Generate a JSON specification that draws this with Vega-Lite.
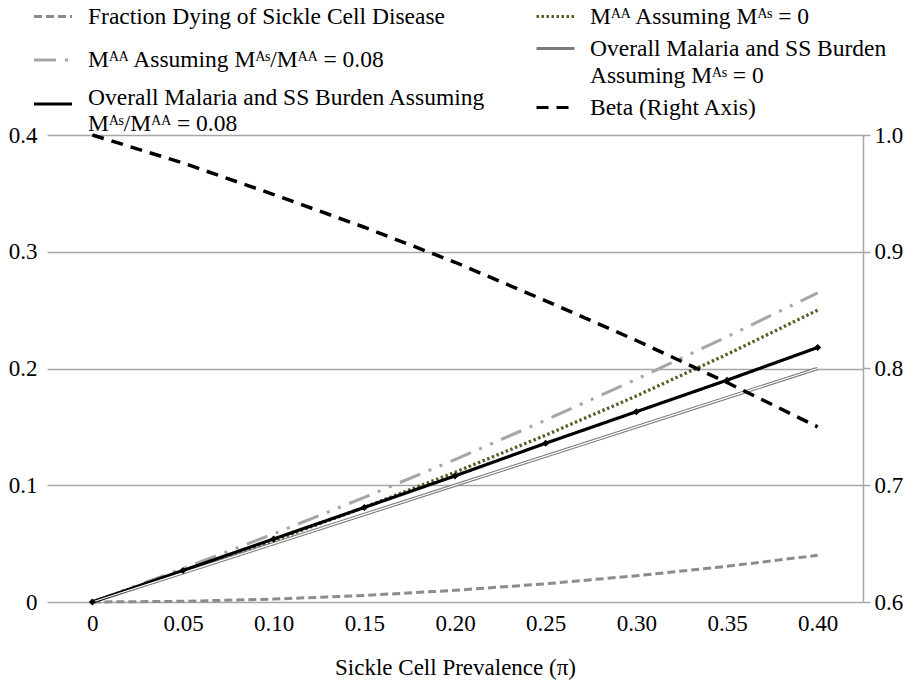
{
  "$schema": "https://vega.github.io/schema/vega-lite/v6.json",
  "width": 816,
  "height": 467,
  "autosize": {"type": "none"},
  "padding": {"left": 47, "top": 135, "right": 49, "bottom": 78},
  "background": "white",
  "config": {
    "view": {"stroke": null},
    "font": "Liberation Serif",
    "axis": {"labelFont": "Liberation Serif", "labelFontSize": 23, "labelColor": "black", "titleFont": "Liberation Serif", "titleFontSize": 23, "titleFontWeight": "normal", "titleColor": "black"},
    "legend": {"labelFont": "Liberation Serif, DejaVu Serif", "labelFontSize": 23.5, "labelColor": "black", "padding": 0}
  },
  "data": {"values": [
    {"p": "0", "s": "Fraction Dying of Sickle Cell Disease", "v": 0},
    {"p": "0.05", "s": "Fraction Dying of Sickle Cell Disease", "v": 0.0006},
    {"p": "0.10", "s": "Fraction Dying of Sickle Cell Disease", "v": 0.0025},
    {"p": "0.15", "s": "Fraction Dying of Sickle Cell Disease", "v": 0.0056},
    {"p": "0.20", "s": "Fraction Dying of Sickle Cell Disease", "v": 0.01},
    {"p": "0.25", "s": "Fraction Dying of Sickle Cell Disease", "v": 0.0156},
    {"p": "0.30", "s": "Fraction Dying of Sickle Cell Disease", "v": 0.0225},
    {"p": "0.35", "s": "Fraction Dying of Sickle Cell Disease", "v": 0.0306},
    {"p": "0.40", "s": "Fraction Dying of Sickle Cell Disease", "v": 0.04},
    {"p": "0", "s": "Mᴬᴬ Assuming Mᴬˢ = 0", "v": 0},
    {"p": "0.05", "s": "Mᴬᴬ Assuming Mᴬˢ = 0", "v": 0.0256},
    {"p": "0.10", "s": "Mᴬᴬ Assuming Mᴬˢ = 0", "v": 0.0526},
    {"p": "0.15", "s": "Mᴬᴬ Assuming Mᴬˢ = 0", "v": 0.0811},
    {"p": "0.20", "s": "Mᴬᴬ Assuming Mᴬˢ = 0", "v": 0.1111},
    {"p": "0.25", "s": "Mᴬᴬ Assuming Mᴬˢ = 0", "v": 0.1429},
    {"p": "0.30", "s": "Mᴬᴬ Assuming Mᴬˢ = 0", "v": 0.1765},
    {"p": "0.35", "s": "Mᴬᴬ Assuming Mᴬˢ = 0", "v": 0.2121},
    {"p": "0.40", "s": "Mᴬᴬ Assuming Mᴬˢ = 0", "v": 0.25},
    {"p": "0", "s": "Mᴬᴬ Assuming Mᴬˢ/Mᴬᴬ = 0.08", "v": 0},
    {"p": "0.05", "s": "Mᴬᴬ Assuming Mᴬˢ/Mᴬᴬ = 0.08", "v": 0.0286},
    {"p": "0.10", "s": "Mᴬᴬ Assuming Mᴬˢ/Mᴬᴬ = 0.08", "v": 0.0584},
    {"p": "0.15", "s": "Mᴬᴬ Assuming Mᴬˢ/Mᴬᴬ = 0.08", "v": 0.0896},
    {"p": "0.20", "s": "Mᴬᴬ Assuming Mᴬˢ/Mᴬᴬ = 0.08", "v": 0.122},
    {"p": "0.25", "s": "Mᴬᴬ Assuming Mᴬˢ/Mᴬᴬ = 0.08", "v": 0.1558},
    {"p": "0.30", "s": "Mᴬᴬ Assuming Mᴬˢ/Mᴬᴬ = 0.08", "v": 0.1908},
    {"p": "0.35", "s": "Mᴬᴬ Assuming Mᴬˢ/Mᴬᴬ = 0.08", "v": 0.2272},
    {"p": "0.40", "s": "Mᴬᴬ Assuming Mᴬˢ/Mᴬᴬ = 0.08", "v": 0.2648},
    {"p": "0", "s": "Overall Malaria and SS Burden|Assuming Mᴬˢ = 0", "v": 0},
    {"p": "0.05", "s": "Overall Malaria and SS Burden|Assuming Mᴬˢ = 0", "v": 0.025},
    {"p": "0.10", "s": "Overall Malaria and SS Burden|Assuming Mᴬˢ = 0", "v": 0.05},
    {"p": "0.15", "s": "Overall Malaria and SS Burden|Assuming Mᴬˢ = 0", "v": 0.075},
    {"p": "0.20", "s": "Overall Malaria and SS Burden|Assuming Mᴬˢ = 0", "v": 0.1},
    {"p": "0.25", "s": "Overall Malaria and SS Burden|Assuming Mᴬˢ = 0", "v": 0.125},
    {"p": "0.30", "s": "Overall Malaria and SS Burden|Assuming Mᴬˢ = 0", "v": 0.15},
    {"p": "0.35", "s": "Overall Malaria and SS Burden|Assuming Mᴬˢ = 0", "v": 0.175},
    {"p": "0.40", "s": "Overall Malaria and SS Burden|Assuming Mᴬˢ = 0", "v": 0.2},
    {"p": "0", "s": "Overall Malaria and SS Burden Assuming|Mᴬˢ/Mᴬᴬ = 0.08", "v": 0},
    {"p": "0.05", "s": "Overall Malaria and SS Burden Assuming|Mᴬˢ/Mᴬᴬ = 0.08", "v": 0.027},
    {"p": "0.10", "s": "Overall Malaria and SS Burden Assuming|Mᴬˢ/Mᴬᴬ = 0.08", "v": 0.054},
    {"p": "0.15", "s": "Overall Malaria and SS Burden Assuming|Mᴬˢ/Mᴬᴬ = 0.08", "v": 0.081},
    {"p": "0.20", "s": "Overall Malaria and SS Burden Assuming|Mᴬˢ/Mᴬᴬ = 0.08", "v": 0.108},
    {"p": "0.25", "s": "Overall Malaria and SS Burden Assuming|Mᴬˢ/Mᴬᴬ = 0.08", "v": 0.136},
    {"p": "0.30", "s": "Overall Malaria and SS Burden Assuming|Mᴬˢ/Mᴬᴬ = 0.08", "v": 0.163},
    {"p": "0.35", "s": "Overall Malaria and SS Burden Assuming|Mᴬˢ/Mᴬᴬ = 0.08", "v": 0.19},
    {"p": "0.40", "s": "Overall Malaria and SS Burden Assuming|Mᴬˢ/Mᴬᴬ = 0.08", "v": 0.218},
    {"p": "0", "s": "Beta (Right Axis)", "v": 1.0},
    {"p": "0.05", "s": "Beta (Right Axis)", "v": 0.976},
    {"p": "0.10", "s": "Beta (Right Axis)", "v": 0.949},
    {"p": "0.15", "s": "Beta (Right Axis)", "v": 0.921},
    {"p": "0.20", "s": "Beta (Right Axis)", "v": 0.891},
    {"p": "0.25", "s": "Beta (Right Axis)", "v": 0.858},
    {"p": "0.30", "s": "Beta (Right Axis)", "v": 0.824},
    {"p": "0.35", "s": "Beta (Right Axis)", "v": 0.788},
    {"p": "0.40", "s": "Beta (Right Axis)", "v": 0.75}
  ]},
  "encoding": {
    "x": {"field": "p", "type": "ordinal", "sort": null, "scale": {"type": "point", "padding": 0.5},
      "axis": {"title": "Sickle Cell Prevalence (π)", "labelAngle": 0, "domain": false, "ticks": false, "labelPadding": 10, "titlePadding": 21}}
  },
  "layer": [
    {
      "transform": [{"filter": "datum.s !== 'Beta (Right Axis)'"}],
      "layer": [
        {
          "mark": {"type": "line"},
          "encoding": {
            "y": {"field": "v", "type": "quantitative", "scale": {"domain": [0, 0.4], "nice": false},
              "axis": {"orient": "left", "title": null, "values": [0, 0.1, 0.2, 0.3, 0.4], "labelExpr": "datum.value == 0 ? '0' : format(datum.value, '.1f')", "grid": true, "gridColor": "#a6a6a6", "gridWidth": 1.5, "domain": false, "ticks": false, "labelPadding": 10}},
            "color": {"field": "s", "type": "nominal",
              "scale": {
                "domain": ["Fraction Dying of Sickle Cell Disease", "Mᴬᴬ Assuming Mᴬˢ/Mᴬᴬ = 0.08", "Overall Malaria and SS Burden Assuming|Mᴬˢ/Mᴬᴬ = 0.08", "Mᴬᴬ Assuming Mᴬˢ = 0", "Overall Malaria and SS Burden|Assuming Mᴬˢ = 0", "Beta (Right Axis)"],
                "range": ["#8c8c8c", "#a6a6a6", "#000000", "#4f6228", "#7a7a7a", "#000000"]
              },
              "legend": {"title": null, "orient": "none", "legendX": -15, "legendY": -139, "direction": "vertical",
                "values": ["Fraction Dying of Sickle Cell Disease", "Mᴬᴬ Assuming Mᴬˢ/Mᴬᴬ = 0.08", "Overall Malaria and SS Burden Assuming|Mᴬˢ/Mᴬᴬ = 0.08"],
                "symbolType": "stroke", "symbolSize": 1444, "symbolStrokeWidth": 3, "labelOffset": 14, "rowPadding": 11, "labelLimit": 700,
                "labelExpr": "split(datum.label, '|')",
                "encode": {
                  "symbols": {"update": {"strokeDash": {"signal": "scale('strokeDash', datum.value)"}}},
                  "labels": {"update": {"lineHeight": {"value": 26}, "dy": {"signal": "indexof(datum.value, '|') >= 0 ? -6 : 0"}}}
                }}
            },
            "strokeDash": {"field": "s", "type": "nominal",
              "scale": {
                "domain": ["Mᴬᴬ Assuming Mᴬˢ = 0", "Overall Malaria and SS Burden|Assuming Mᴬˢ = 0", "Beta (Right Axis)", "Fraction Dying of Sickle Cell Disease", "Mᴬᴬ Assuming Mᴬˢ/Mᴬᴬ = 0.08", "Overall Malaria and SS Burden Assuming|Mᴬˢ/Mᴬᴬ = 0.08"],
                "range": [[2.5, 2.5], [1, 0], [12, 8], [8, 4], [22, 9, 3, 9, 3, 9], [1, 0]]
              },
              "legend": {"title": null, "orient": "none", "legendX": 488, "legendY": -139, "direction": "vertical",
                "values": ["Mᴬᴬ Assuming Mᴬˢ = 0", "Overall Malaria and SS Burden|Assuming Mᴬˢ = 0", "Beta (Right Axis)"],
                "symbolType": "stroke", "symbolSize": 1444, "symbolStrokeWidth": 3, "labelOffset": 14, "rowPadding": -9, "labelLimit": 700,
                "labelExpr": "split(datum.label, '|')",
                "encode": {
                  "symbols": {"update": {"stroke": {"signal": "scale('color', datum.value)"}}},
                  "labels": {"update": {"lineHeight": {"value": 27}}}
                }}
            },
            "strokeWidth": {"field": "s", "type": "nominal",
              "scale": {
                "domain": ["Fraction Dying of Sickle Cell Disease", "Mᴬᴬ Assuming Mᴬˢ/Mᴬᴬ = 0.08", "Overall Malaria and SS Burden Assuming|Mᴬˢ/Mᴬᴬ = 0.08", "Mᴬᴬ Assuming Mᴬˢ = 0", "Overall Malaria and SS Burden|Assuming Mᴬˢ = 0", "Beta (Right Axis)"],
                "range": [3, 3.5, 3, 3, 4.5, 3.5]
              },
              "legend": null
            }
          }
        },
        {
          "transform": [{"filter": "datum.s === 'Overall Malaria and SS Burden|Assuming Mᴬˢ = 0'"}],
          "mark": {"type": "line", "color": "white", "strokeWidth": 1.3},
          "encoding": {"y": {"field": "v", "type": "quantitative"}}
        },
        {
          "transform": [{"filter": "datum.s === 'Overall Malaria and SS Burden Assuming|Mᴬˢ/Mᴬᴬ = 0.08'"}],
          "mark": {"type": "point", "shape": "diamond", "filled": true, "color": "black", "size": 50, "opacity": 1},
          "encoding": {"y": {"field": "v", "type": "quantitative"}}
        }
      ]
    },
    {
      "transform": [{"filter": "datum.s === 'Beta (Right Axis)'"}],
      "mark": {"type": "line"},
      "encoding": {
        "y": {"field": "v", "type": "quantitative", "scale": {"domain": [0.6, 1.0], "nice": false, "zero": false},
          "axis": {"orient": "right", "title": null, "values": [0.6, 0.7, 0.8, 0.9, 1.0], "format": ".1f", "grid": false, "domain": true, "domainColor": "#a6a6a6", "domainWidth": 1.5, "ticks": true, "tickColor": "#a6a6a6", "tickWidth": 1.5, "tickSize": 7, "labelPadding": 4}},
        "color": {"field": "s", "type": "nominal"},
        "strokeDash": {"field": "s", "type": "nominal"},
        "strokeWidth": {"field": "s", "type": "nominal", "legend": null}
      }
    }
  ],
  "resolve": {"scale": {"y": "independent"}}
}
